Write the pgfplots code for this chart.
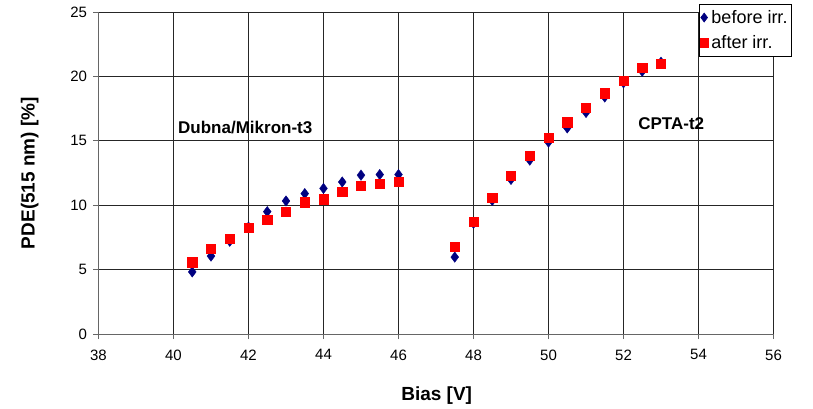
\documentclass[border=0pt]{standalone}
\usepackage{fontspec}
\setmainfont{Liberation Sans}
\usepackage{pgfplots}
\pgfplotsset{compat=1.18}
\definecolor{navyb}{RGB}{0,0,128}
\definecolor{redr}{RGB}{255,0,0}
\begin{document}
\begin{tikzpicture}
\useasboundingbox (-98.5pt,-74pt) rectangle (714.5pt,334pt);
\begin{axis}[
  scale only axis,
  width=675pt, height=322pt,
  xmin=38, xmax=56, ymin=0, ymax=25,
  xtick distance=2, ytick distance=5,
  grid=major,
  grid style={black!85, line width=0.8pt},
  axis lines=left,
  axis line style={-, black!60, line width=0.8pt},
  tick align=outside,
  major tick length=5pt,
  tick style={black!60, line width=0.8pt},
  /pgf/number format/assume math mode=true,
  ticklabel style={font=\fontsize{15}{18}\selectfont},
  xticklabel style={yshift=-7pt},
  yticklabel style={xshift=-3pt},
  xlabel={\textbf{Bias [V]}},
  ylabel={\textbf{PDE(515 nm) [\%]}},
  label style={font=\fontsize{19}{22}\selectfont},
  xlabel style={at={(axis description cs:0.501,-0.19)}, anchor=center},
  ylabel style={at={(axis description cs:-0.102,0.5)}, anchor=center},
  legend style={at={(axis description cs:0.889,1.025)}, anchor=north west,
    draw=black, line width=0.6pt, font=\fontsize{18}{21}\selectfont,
    inner xsep=1pt, inner ysep=4pt, row sep=7pt,
    nodes={inner xsep=3pt}},
  legend image code/.code={\draw[mark repeat=2,mark phase=2] plot coordinates {(0cm,0cm) (0.15cm,0cm) (0.3cm,0cm)};},
  legend cell align=left,
  clip=false,
]
\addplot[only marks, mark=diamond*, mark size=5.2pt, color=navyb,
  legend image post style={mark size=4.5pt}] coordinates {
(40.5,4.82) (41,6.05) (41.5,7.2) (42,8.3) (42.5,9.5) (43,10.33) (43.5,10.9)
(44,11.3) (44.5,11.8) (45,12.33) (45.5,12.38) (46,12.38)
(47.5,5.97) (48,8.6) (48.5,10.37) (49,12.0) (49.5,13.5) (50,14.9)
(50.5,16.0) (51,17.2) (51.5,18.4) (52,19.5) (52.5,20.4) (53,21.1)
};
\addlegendentry{before irr.}
\addplot[only marks, mark=square*, mark size=4.6pt, color=redr,
  legend image post style={mark size=4.3pt}] coordinates {
(40.5,5.58) (41,6.6) (41.5,7.38) (42,8.23) (42.5,8.85) (43,9.48) (43.5,10.23)
(44,10.46) (44.5,11.05) (45,11.5) (45.5,11.7) (46,11.8)
(47.5,6.75) (48,8.74) (48.5,10.58) (49,12.31) (49.5,13.86) (50,15.23)
(50.5,16.45) (51,17.6) (51.5,18.7) (52,19.68) (52.5,20.7) (53,20.97)
};
\addlegendentry{after irr.}
\node[anchor=west, font=\fontsize{17}{20}\selectfont\bfseries, inner sep=0pt] at (axis cs:40.12,16.03) {Dubna/Mikron-t3};
\node[anchor=west, font=\fontsize{17}{20}\selectfont\bfseries, inner sep=0pt] at (axis cs:52.39,16.37) {CPTA-t2};
\end{axis}
\end{tikzpicture}
\end{document}
